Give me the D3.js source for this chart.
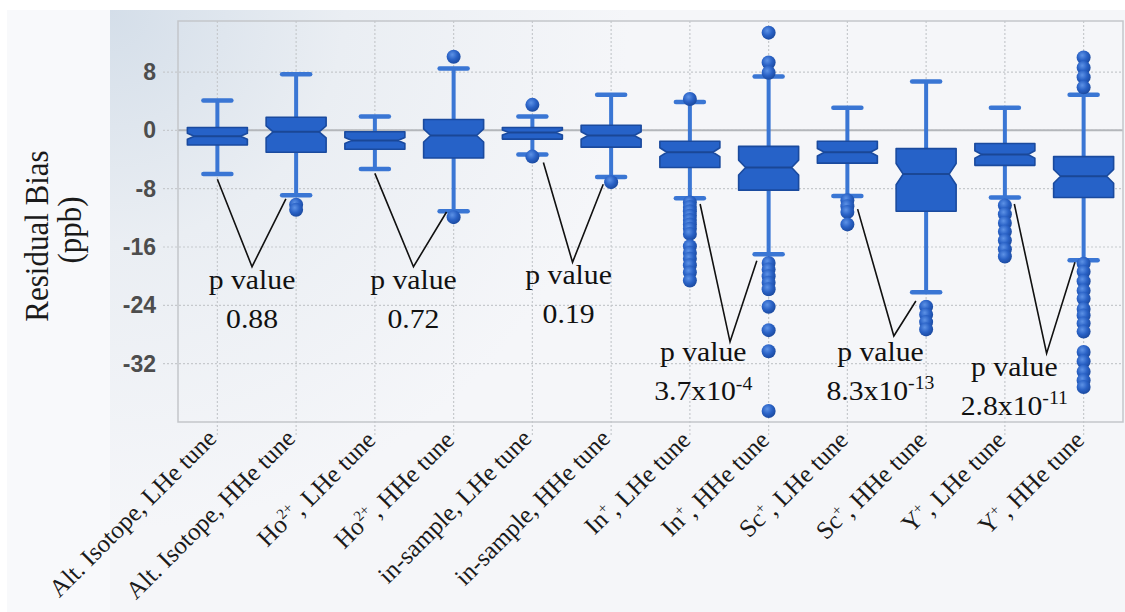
<!DOCTYPE html>
<html>
<head>
<meta charset="utf-8">
<script src="https://cdn.jsdelivr.net/npm/d3@7"></script>
<style>
  html, body { margin: 0; padding: 0; background: #ffffff; }
  svg { display: block; }
</style>
</head>
<body>
<svg id="chart" width="1125" height="612"></svg>
<script>
// Group labels; text between ^ marks is set as superscript
const categories = [
  "Alt. Isotope, LHe tune", "Alt. Isotope, HHe tune",
  "Ho^2+^, LHe tune", "Ho^2+^, HHe tune",
  "in-sample, LHe tune", "in-sample, HHe tune",
  "In^+^, LHe tune", "In^+^, HHe tune",
  "Sc^+^, LHe tune", "Sc^+^, HHe tune",
  "Y^+^, LHe tune", "Y^+^, HHe tune"
];

// Box statistics (ppb)
const whiskerHigh = [4.1, 7.7, 1.9, 8.5, 1.9, 4.9, 3.9, 7.4, 3.1, 6.7, 3.1, 4.9];
const upperQuartile = [0.4, 1.8, -0.2, 1.5, 0.4, 0.7, -1.5, -2.2, -1.5, -2.5, -1.8, -3.6];
const medians = [-0.8, -0.2, -1.4, -0.7, -0.3, -0.7, -3.0, -5.1, -3.0, -6.0, -3.3, -6.3];
const lowerQuartile = [-2.0, -3.0, -2.6, -3.8, -1.2, -2.3, -5.1, -8.2, -4.5, -11.1, -4.8, -9.2];
const whiskerLow = [-6.0, -8.9, -5.3, -11.1, -3.3, -6.4, -9.3, -17.0, -9.0, -22.2, -9.2, -17.8];

const outliers = [
  [],
  [-10.2, -10.9],
  [],
  [10.1, -11.9],
  [3.5, -3.6],
  [-7.1],
  [4.3, -9.9, -10.5, -11.1, -11.7, -12.3, -12.9, -13.5, -14.2, -15.9, -16.8, -17.6, -18.5, -19.5, -20.6],
  [13.4, 9.3, 7.9, -18.2, -19.1, -20.0, -20.9, -21.8, -24.2, -27.4, -30.3, -38.5],
  [-9.6, -10.4, -11.2, -12.9],
  [-24.2, -25.3, -26.3, -27.3],
  [-10.3, -11.5, -12.7, -13.9, -15.1, -16.3, -17.3],
  [10.0, 8.6, 7.3, 5.9, -18.3, -19.4, -20.7, -22.0, -23.1, -24.5, -25.4, -26.5, -27.6, -30.4, -31.7, -33.1, -34.3, -35.2]
];

const yTicks = [8, 0, -8, -16, -24, -32];

// Pairwise comparisons (LHe vs HHe tune)
const pPairs = [[0, 1], [2, 3], [4, 5], [6, 7], [8, 9], [10, 11]];
const pMantissa = ["0.88", "0.72", "0.19", "3.7x10", "8.3x10", "2.8x10"];
const pExponent = ["", "", "", "-4", "-13", "-11"];

// Callout geometry: [category offset, value]
const calloutApex  = [[0.44, -18.7], [0.49, -18.7], [0.51, -18.1], [0.51, -29.0], [0.59, -28.2], [0.53, -30.6]];
const calloutLeft  = [[0.0, -6.7], [0.0, -5.9], [0.14, -4.4], [0.13, -10.1], [0.13, -10.8], [0.12, -10.1]];
const calloutRight = [[-0.13, -9.4], [-0.09, -11.2], [-0.10, -7.4], [-0.15, -17.9], [-0.13, -23.4], [-0.11, -18.1]];
const calloutText  = [[0.44, -21.75], [0.49, -21.75], [0.46, -21.1], [0.17, -31.7], [0.42, -31.6], [0.12, -33.7]];

const W = 1125, H = 612;
const plot = { left: 178, right: 1123, top: 21, bottom: 422 };
const serif = "'Liberation Serif', 'Times New Roman', serif";
const stretch = 1.1;

const svg = d3.select("#chart");
const defs = svg.append("defs");

const panelGrad = defs.append("radialGradient")
  .attr("id", "panelGrad")
  .attr("gradientUnits", "userSpaceOnUse")
  .attr("cx", 110).attr("cy", 10).attr("r", 520);
panelGrad.append("stop").attr("offset", "0%").attr("stop-color", "#d4dee9");
panelGrad.append("stop").attr("offset", "45%").attr("stop-color", "#eaeef3");
panelGrad.append("stop").attr("offset", "100%").attr("stop-color", "#f5f6f9");

const dotGrad = defs.append("radialGradient")
  .attr("id", "dotGrad")
  .attr("cx", "40%").attr("cy", "35%").attr("r", "65%");
dotGrad.append("stop").attr("offset", "0%").attr("stop-color", "#5d92e6");
dotGrad.append("stop").attr("offset", "55%").attr("stop-color", "#2a62c6");
dotGrad.append("stop").attr("offset", "100%").attr("stop-color", "#1b4aa0");

// Backgrounds
svg.append("rect").attr("x", 7).attr("y", 10).attr("width", W - 7).attr("height", H - 10)
  .attr("fill", "#f8f9fb");
svg.append("rect").attr("x", 110).attr("y", 10).attr("width", W - 110).attr("height", H - 10)
  .attr("fill", "url(#panelGrad)");

const x = d3.scalePoint()
  .domain(d3.range(categories.length))
  .range([plot.left, plot.right])
  .padding(0.5);
const step = x.step();
const y = d3.scaleLinear().domain([-40, 15]).range([plot.bottom, plot.top]);

// Grid
const grid = svg.append("g");
grid.selectAll(".hgrid").data(yTicks).join("line")
  .attr("x1", 163).attr("x2", plot.right)
  .attr("y1", d => y(d)).attr("y2", d => y(d))
  .attr("stroke", "#c6c9cd").attr("stroke-width", 1.2)
  .attr("stroke-dasharray", "2,2");
grid.selectAll(".vgrid").data(d3.range(categories.length)).join("line")
  .attr("x1", d => x(d)).attr("x2", d => x(d))
  .attr("y1", plot.top).attr("y2", plot.bottom + 15)
  .attr("stroke", "#c6c9cd").attr("stroke-width", 1.2)
  .attr("stroke-dasharray", "2,2");
grid.append("line")
  .attr("x1", plot.left).attr("x2", plot.right)
  .attr("y1", y(0)).attr("y2", y(0))
  .attr("stroke", "#b4b7bb").attr("stroke-width", 2);
svg.append("rect")
  .attr("x", plot.left).attr("y", plot.top)
  .attr("width", plot.right - plot.left).attr("height", plot.bottom - plot.top)
  .attr("fill", "none").attr("stroke", "#c3c6ca").attr("stroke-width", 1.5);

// Y axis labels
const yAxis = svg.append("g")
  .attr("transform", `translate(${plot.left},0)`)
  .call(d3.axisLeft(y).tickValues(yTicks).tickSize(0).tickPadding(22).tickFormat(d => String(d)));
yAxis.select(".domain").remove();
yAxis.selectAll("text")
  .attr("font-family", "'Liberation Sans', Arial, sans-serif")
  .attr("font-weight", "bold")
  .attr("font-size", 23)
  .attr("fill", "#4d4d4d");

// X axis labels
function richText(sel, label, supSize) {
  label.split("^").forEach((part, k) => {
    if (!part) return;
    const t = sel.append("tspan").text(part);
    if (k % 2 === 1) {
      t.attr("font-size", supSize).attr("dy", "-0.6em");
    } else if (k > 0) {
      t.attr("dy", "0.45em");
    }
  });
}
const xAxis = svg.append("g")
  .attr("transform", `translate(0,${plot.bottom})`)
  .call(d3.axisBottom(x).tickSize(0).tickFormat(() => ""));
xAxis.select(".domain").remove();
xAxis.selectAll(".tick text").each(function (d) {
  const t = d3.select(this);
  t.text(null)
    .attr("y", 0).attr("dy", 0)
    .attr("transform", "translate(0,18) rotate(-45)")
    .attr("text-anchor", "end")
    .attr("font-family", serif)
    .attr("font-size", 25)
    .attr("fill", "#1a1a1a");
  richText(t, categories[d], 15);
});

// Y title
[["Residual Bias", 48, 236], ["(ppb)", 81, 230]].forEach(([s, tx, ty]) => {
  svg.append("text")
    .attr("transform", `translate(${tx},${ty}) scale(${stretch},1) rotate(-90)`)
    .attr("text-anchor", "middle")
    .attr("font-family", serif)
    .attr("font-size", 31)
    .attr("fill", "#1a1a1a")
    .text(s);
});

// Boxes
const boxW = 60, notchIn = 7, capW = 28;
const boxes = svg.append("g");
categories.forEach((c, i) => {
  const cx = x(i);
  const g = boxes.append("g");
  const whiskerColor = "#3a76d4";
  g.append("line").attr("x1", cx).attr("x2", cx)
    .attr("y1", y(whiskerHigh[i])).attr("y2", y(upperQuartile[i]))
    .attr("stroke", whiskerColor).attr("stroke-width", 4);
  g.append("line").attr("x1", cx).attr("x2", cx)
    .attr("y1", y(lowerQuartile[i])).attr("y2", y(whiskerLow[i]))
    .attr("stroke", whiskerColor).attr("stroke-width", 4);
  [whiskerHigh[i], whiskerLow[i]].forEach(v => {
    g.append("line").attr("x1", cx - capW / 2).attr("x2", cx + capW / 2)
      .attr("y1", y(v)).attr("y2", y(v))
      .attr("stroke", whiskerColor).attr("stroke-width", 4.5)
      .attr("stroke-linecap", "round");
  });
  const yt = y(upperQuartile[i]), yb = y(lowerQuartile[i]), ym = y(medians[i]);
  const nh = Math.max(2.5, 0.17 * (yb - yt));
  const l = cx - boxW / 2, r = cx + boxW / 2;
  const pts = [
    [l, yt], [r, yt], [r, ym - nh], [r - notchIn, ym], [r, ym + nh], [r, yb],
    [l, yb], [l, ym + nh], [l + notchIn, ym], [l, ym - nh]
  ];
  g.append("path")
    .attr("d", d3.line()(pts) + "Z")
    .attr("fill", "#2662c8")
    .attr("stroke", "#1a4a9e").attr("stroke-width", 1.6)
    .attr("stroke-linejoin", "round");
  g.append("line")
    .attr("x1", l + notchIn).attr("x2", r - notchIn)
    .attr("y1", ym).attr("y2", ym)
    .attr("stroke", "#1a4796").attr("stroke-width", 2);
  g.selectAll("circle").data(outliers[i]).join("circle")
    .attr("cx", cx).attr("cy", v => y(v))
    .attr("r", 7)
    .attr("fill", "url(#dotGrad)");
});

// p-value callouts
const callouts = svg.append("g");
pPairs.forEach(([a, b], k) => {
  const apex = [x(a) + calloutApex[k][0] * step, y(calloutApex[k][1])];
  const left = [x(a) + calloutLeft[k][0] * step, y(calloutLeft[k][1])];
  const right = [x(b) + calloutRight[k][0] * step, y(calloutRight[k][1])];
  callouts.append("path")
    .attr("d", d3.line()([left, apex, right]))
    .attr("fill", "none").attr("stroke", "#111").attr("stroke-width", 1.6);
  const tg = callouts.append("g")
    .attr("transform", `translate(${x(a) + calloutText[k][0] * step},${y(calloutText[k][1])}) scale(${stretch},1)`)
    .attr("font-family", serif).attr("fill", "#111").attr("text-anchor", "middle");
  tg.append("text").attr("font-size", 27).text("p value");
  const vt = tg.append("text").attr("font-size", 27).attr("y", 39);
  vt.append("tspan").text(pMantissa[k]);
  if (pExponent[k]) {
    vt.append("tspan").attr("font-size", 18).attr("dy", "-0.6em").text(pExponent[k]);
  }
});
</script>
</body>
</html>
